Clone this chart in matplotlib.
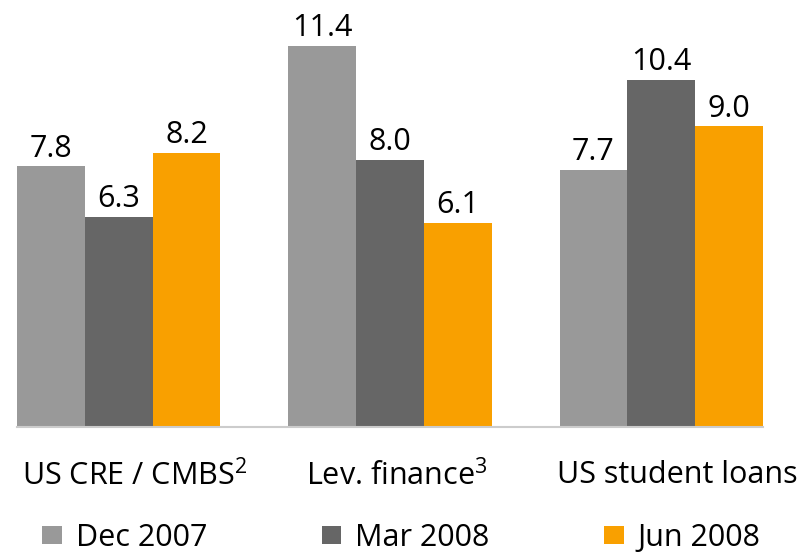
import numpy as np
import matplotlib.pyplot as plt
from matplotlib.patches import Patch

# ------------------------
# Data
# ------------------------
categories = ["US CRE / CMBS$^{2}$", "Lev. finance$^{3}$", "US student loans"]
series = ["Dec 2007", "Mar 2008", "Jun 2008"]
dec_2007 = [7.8, 11.4, 7.7]
mar_2008 = [6.3, 8.0, 10.4]
jun_2008 = [8.2, 6.1, 9.0]
colors = ["#999999", "#666666", "#F9A000"]

plt.rcParams['font.family'] = ['Open Sans', 'DejaVu Sans']
plt.rcParams['mathtext.fontset'] = 'custom'
plt.rcParams['mathtext.rm'] = 'Open Sans'

fig = plt.figure(figsize=(8.03, 5.55), dpi=100)
ax = fig.add_axes([17 / 803, 128 / 555, 746 / 803, 417.5 / 555])

x = np.arange(len(categories))
width = 0.25
values = [dec_2007, mar_2008, jun_2008]

for i, (name, vals) in enumerate(zip(series, values)):
    bars = ax.bar(x + (i - 1) * width, vals, width=width, color=colors[i],
                  label=name, linewidth=0)
    for b, v in zip(bars, vals):
        ax.annotate(f"{v:.1f}", (b.get_x() + b.get_width() / 2, v),
                    xytext=(0, 2), textcoords="offset points",
                    ha="center", va="bottom", fontsize=22, color="black")

ax.set_xlim(-0.375, 2.375)
ax.set_ylim(0, 12.5)
for s in ["top", "right", "left"]:
    ax.spines[s].set_visible(False)
ax.spines["bottom"].set_color("#cccccc")
ax.spines["bottom"].set_linewidth(1.5)
ax.set_yticks([])

# small shifts so labels sit like the original
label_shift = [0.06, 0.025, 0.06]
ax.set_xticks(x + np.array(label_shift))
ax.set_xticklabels(categories, fontsize=22)
ax.tick_params(axis="x", length=0, pad=24)

handles = [Patch(facecolor=c, edgecolor="none") for c in colors]
fig.legend(handles, series, loc="lower left", bbox_to_anchor=(42 / 803, 0.004),
           ncol=3, frameon=False, fontsize=22, handlelength=0.65,
           handleheight=0.55, handletextpad=0.45, columnspacing=3.75,
           borderpad=0, borderaxespad=0)

plt.savefig("out.png", dpi=100)
